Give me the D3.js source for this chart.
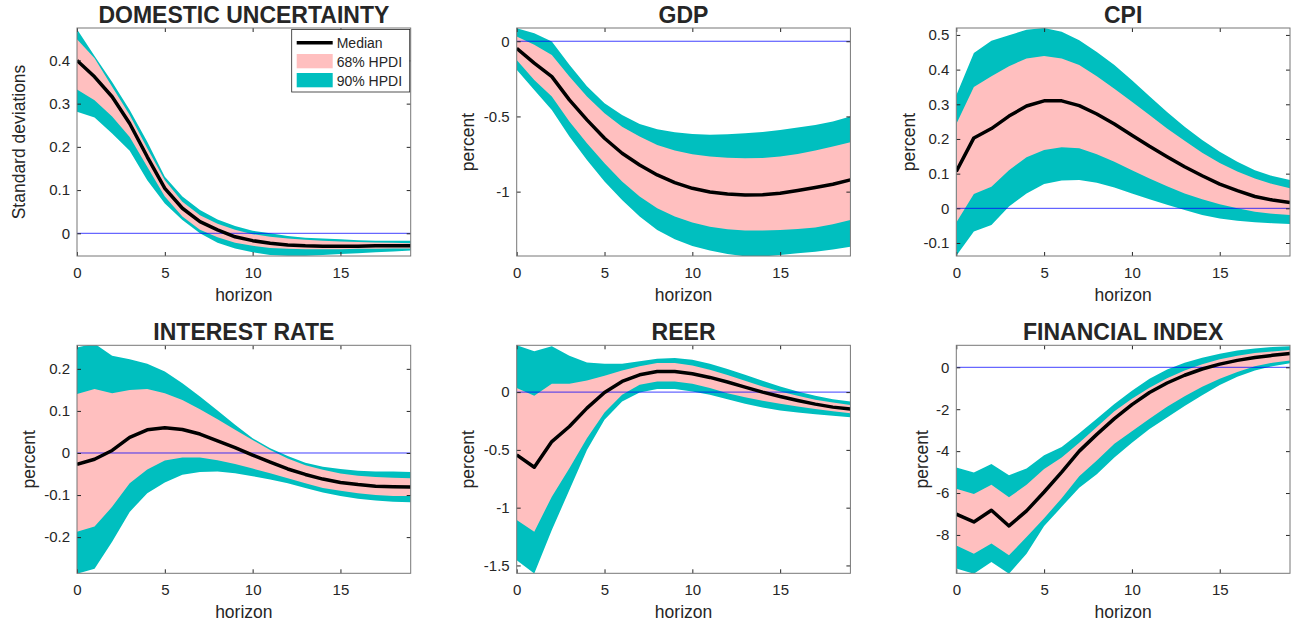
<!DOCTYPE html>
<html>
<head>
<meta charset="utf-8">
<script src="https://cdn.jsdelivr.net/npm/d3@7"></script>
<style>
  body { margin: 0; background: #fff; }
  svg text { font-family: "Liberation Sans", Arial, sans-serif; fill: #262626; }
</style>
</head>
<body>
<svg id="chart" width="1293" height="626"></svg>
<script>
// horizon (x axis)
var horizon = [0,1,2,3,4,5,6,7,8,9,10,11,12,13,14,15,16,17,18,19];

// DOMESTIC UNCERTAINTY
var duMedian = [0.400,0.362,0.316,0.254,0.177,0.104,0.058,0.027,0.008,-0.008,-0.017,-0.023,-0.027,-0.029,-0.030,-0.030,-0.030,-0.029,-0.029,-0.029];
var duLo68 = [0.333,0.308,0.270,0.223,0.154,0.085,0.039,0.008,-0.009,-0.022,-0.029,-0.034,-0.036,-0.037,-0.037,-0.037,-0.036,-0.036,-0.035,-0.035];
var duHi68 = [0.449,0.405,0.339,0.274,0.197,0.123,0.073,0.042,0.022,0.008,-0.002,-0.008,-0.012,-0.015,-0.017,-0.019,-0.020,-0.021,-0.022,-0.023];
var duLo90 = [0.281,0.268,0.231,0.191,0.123,0.069,0.031,0.000,-0.022,-0.035,-0.044,-0.050,-0.052,-0.052,-0.050,-0.048,-0.046,-0.044,-0.042,-0.040];
var duHi90 = [0.472,0.410,0.350,0.285,0.212,0.131,0.085,0.054,0.032,0.017,0.006,0.000,-0.006,-0.010,-0.012,-0.014,-0.016,-0.017,-0.017,-0.017];

// GDP
var gdpMedian = [-0.047,-0.146,-0.235,-0.390,-0.523,-0.645,-0.745,-0.823,-0.889,-0.940,-0.978,-1.002,-1.016,-1.022,-1.020,-1.011,-0.993,-0.973,-0.951,-0.922];
var gdpLo68 = [-0.124,-0.257,-0.368,-0.534,-0.678,-0.811,-0.933,-1.033,-1.111,-1.166,-1.206,-1.233,-1.250,-1.259,-1.259,-1.255,-1.248,-1.239,-1.217,-1.188];
var gdpHi68 = [0.031,-0.024,-0.091,-0.235,-0.368,-0.479,-0.568,-0.634,-0.690,-0.727,-0.752,-0.767,-0.774,-0.778,-0.776,-0.767,-0.749,-0.727,-0.700,-0.672];
var gdpLo90 = [-0.190,-0.324,-0.457,-0.634,-0.789,-0.933,-1.055,-1.166,-1.255,-1.317,-1.361,-1.392,-1.415,-1.430,-1.432,-1.421,-1.410,-1.399,-1.384,-1.366];
var gdpHi90 = [0.086,0.053,-0.002,-0.157,-0.300,-0.412,-0.490,-0.550,-0.585,-0.605,-0.616,-0.621,-0.619,-0.612,-0.603,-0.590,-0.574,-0.557,-0.534,-0.501];

// CPI
var cpiMedian = [0.106,0.203,0.230,0.266,0.295,0.310,0.310,0.296,0.272,0.243,0.211,0.179,0.149,0.120,0.094,0.070,0.051,0.034,0.024,0.017];
var cpiLo68 = [-0.041,0.041,0.062,0.110,0.147,0.168,0.176,0.173,0.156,0.134,0.110,0.086,0.064,0.043,0.026,0.012,0.000,-0.010,-0.016,-0.019];
var cpiHi68 = [0.243,0.350,0.381,0.410,0.432,0.439,0.432,0.413,0.381,0.345,0.307,0.269,0.230,0.195,0.160,0.131,0.106,0.086,0.070,0.058];
var cpiLo90 = [-0.137,-0.067,-0.048,0.005,0.043,0.070,0.080,0.082,0.074,0.060,0.043,0.026,0.010,-0.005,-0.019,-0.029,-0.036,-0.040,-0.043,-0.045];
var cpiHi90 = [0.326,0.448,0.483,0.499,0.515,0.520,0.509,0.485,0.451,0.413,0.369,0.323,0.278,0.235,0.197,0.163,0.134,0.110,0.093,0.082];

// INTEREST RATE
var irMedian = [-0.027,-0.015,0.006,0.037,0.055,0.060,0.056,0.045,0.029,0.013,-0.005,-0.022,-0.038,-0.051,-0.062,-0.070,-0.075,-0.079,-0.080,-0.081];
var irLo68 = [-0.187,-0.175,-0.128,-0.072,-0.039,-0.018,-0.011,-0.011,-0.017,-0.026,-0.037,-0.048,-0.060,-0.072,-0.083,-0.090,-0.096,-0.100,-0.102,-0.102];
var irHi68 = [0.140,0.152,0.142,0.150,0.152,0.142,0.126,0.104,0.080,0.055,0.031,0.007,-0.013,-0.029,-0.040,-0.049,-0.054,-0.057,-0.059,-0.060];
var irLo90 = [-0.287,-0.275,-0.211,-0.140,-0.096,-0.070,-0.052,-0.045,-0.044,-0.048,-0.055,-0.063,-0.072,-0.083,-0.094,-0.102,-0.109,-0.113,-0.116,-0.117];
var irHi90 = [0.251,0.260,0.231,0.223,0.212,0.194,0.166,0.134,0.101,0.067,0.035,0.011,-0.007,-0.023,-0.033,-0.038,-0.042,-0.044,-0.044,-0.045];

// REER
var reerMedian = [-0.543,-0.650,-0.428,-0.298,-0.139,-0.003,0.092,0.150,0.179,0.179,0.159,0.127,0.087,0.043,0.000,-0.038,-0.072,-0.104,-0.130,-0.147];
var reerLo68 = [-1.107,-1.208,-0.905,-0.659,-0.399,-0.176,-0.023,0.064,0.092,0.092,0.072,0.035,-0.009,-0.045,-0.075,-0.100,-0.125,-0.147,-0.165,-0.182];
var reerHi68 = [0.035,-0.032,0.072,0.072,0.101,0.142,0.188,0.223,0.251,0.251,0.231,0.194,0.147,0.098,0.049,0.006,-0.032,-0.066,-0.090,-0.112];
var reerLo90 = [-1.454,-1.570,-1.194,-0.847,-0.500,-0.240,-0.081,-0.003,0.026,0.026,0.006,-0.023,-0.061,-0.101,-0.133,-0.159,-0.176,-0.191,-0.205,-0.217];
var reerHi90 = [0.405,0.353,0.396,0.315,0.257,0.246,0.246,0.266,0.289,0.295,0.280,0.246,0.199,0.150,0.098,0.049,0.006,-0.032,-0.061,-0.081];

// FINANCIAL INDEX
var fiMedian = [-7.01,-7.38,-6.82,-7.57,-6.85,-5.95,-5.00,-4.00,-3.20,-2.45,-1.78,-1.20,-0.75,-0.38,-0.08,0.15,0.33,0.47,0.57,0.66];
var fiLo68 = [-8.50,-8.90,-8.41,-8.97,-8.10,-7.20,-6.25,-5.20,-4.45,-3.65,-3.05,-2.45,-1.88,-1.38,-0.93,-0.55,-0.22,0.05,0.22,0.33];
var fiHi68 = [-5.80,-6.05,-5.60,-6.20,-5.61,-4.85,-4.30,-3.60,-2.85,-2.10,-1.50,-0.98,-0.52,-0.15,0.15,0.38,0.55,0.68,0.76,0.82];
var fiLo90 = [-9.60,-9.85,-9.29,-9.85,-8.90,-7.57,-6.66,-5.75,-5.10,-4.30,-3.60,-2.95,-2.40,-1.85,-1.33,-0.85,-0.45,-0.15,0.05,0.19];
var fiHi90 = [-4.78,-5.02,-4.62,-5.15,-4.83,-4.20,-3.80,-3.15,-2.45,-1.75,-1.12,-0.55,-0.10,0.22,0.45,0.65,0.80,0.90,0.97,1.00];

// titles, axis labels, ticks
var titles = ["DOMESTIC UNCERTAINTY", "GDP", "CPI", "INTEREST RATE", "REER", "FINANCIAL INDEX"];
var yLabels = ["Standard deviations", "percent", "percent", "percent", "percent", "percent"];
var xTicks = [0, 5, 10, 15];
var yTicks = [
  [0, 0.1, 0.2, 0.3, 0.4],
  [-1, -0.5, 0],
  [-0.1, 0, 0.1, 0.2, 0.3, 0.4, 0.5],
  [-0.2, -0.1, 0, 0.1, 0.2],
  [-1.5, -1, -0.5, 0],
  [-8, -6, -4, -2, 0]
];
var yDomains = [
  [-0.0525, 0.475],
  [-1.428, 0.088],
  [-0.1375, 0.52],
  [-0.286, 0.256],
  [-1.568, 0.405],
  [-9.83, 1.05]
];
var legendLabels = ["Median", "68% HPDI", "90% HPDI"];

var panels = [
  {median: duMedian, lo68: duLo68, hi68: duHi68, lo90: duLo90, hi90: duHi90},
  {median: gdpMedian, lo68: gdpLo68, hi68: gdpHi68, lo90: gdpLo90, hi90: gdpHi90},
  {median: cpiMedian, lo68: cpiLo68, hi68: cpiHi68, lo90: cpiLo90, hi90: cpiHi90},
  {median: irMedian, lo68: irLo68, hi68: irHi68, lo90: irLo90, hi90: irHi90},
  {median: reerMedian, lo68: reerLo68, hi68: reerHi68, lo90: reerLo90, hi90: reerHi90},
  {median: fiMedian, lo68: fiLo68, hi68: fiHi68, lo90: fiLo90, hi90: fiHi90}
];

// layout
var colLeft = [77, 516.7, 956.3];
var rowTop = [28, 345.3];
var plotW = 333.7, plotH = 228;
var yLabelX = [-52, -42.4, -41.6, -42, -42.4, -28.6];

var pink = "#ffbfbf", cyan = "#00bfbf";

var svg = d3.select("#chart");

panels.forEach(function(p, i) {
  var left = colLeft[i % 3], top = rowTop[Math.floor(i / 3)];
  var g = svg.append("g").attr("transform", "translate(" + left + "," + top + ")");

  var x = d3.scaleLinear().domain([0, 19]).range([0, plotW]);
  var y = d3.scaleLinear().domain(yDomains[i]).range([plotH, 0]);

  g.append("clipPath").attr("id", "clip" + i)
    .append("rect").attr("width", plotW).attr("height", plotH);

  var plot = g.append("g").attr("clip-path", "url(#clip" + i + ")");

  var rows = horizon.map(function(h, k) {
    return {h: h, m: p.median[k], lo68: p.lo68[k], hi68: p.hi68[k], lo90: p.lo90[k], hi90: p.hi90[k]};
  });

  var band = function(loKey, hiKey) {
    return d3.area()
      .x(function(d) { return x(d.h); })
      .y0(function(d) { return y(d[loKey]); })
      .y1(function(d) { return y(d[hiKey]); });
  };

  plot.append("path").datum(rows).attr("d", band("lo90", "hi90")).attr("fill", cyan);
  plot.append("path").datum(rows).attr("d", band("lo68", "hi68")).attr("fill", pink);

  plot.append("line")
    .attr("x1", 0).attr("x2", plotW)
    .attr("y1", y(0)).attr("y2", y(0))
    .attr("stroke", "#0000ff").attr("stroke-opacity", 0.75).attr("stroke-width", 1);

  plot.append("path").datum(rows)
    .attr("d", d3.line().x(function(d) { return x(d.h); }).y(function(d) { return y(d.m); }))
    .attr("fill", "none").attr("stroke", "#000").attr("stroke-width", 3.5)
    .attr("stroke-linejoin", "round");

  // axes (ticks inward, box on)
  var fmt = function(d) { return String(d); };
  g.append("g").attr("transform", "translate(0," + plotH + ")")
    .call(d3.axisBottom(x).tickValues(xTicks).tickFormat(fmt).tickSizeInner(-4).tickSizeOuter(0).tickPadding(11));
  g.append("g")
    .call(d3.axisLeft(y).tickValues(yTicks[i]).tickFormat(fmt).tickSizeInner(-4).tickSizeOuter(0).tickPadding(7));
  g.append("g").call(d3.axisTop(x).tickValues(xTicks).tickFormat("").tickSizeInner(-4).tickSizeOuter(0));
  g.append("g").attr("transform", "translate(" + plotW + ",0)")
    .call(d3.axisRight(y).tickValues(yTicks[i]).tickFormat("").tickSizeInner(-4).tickSizeOuter(0));

  g.selectAll(".domain").remove();
  g.selectAll(".tick line").attr("stroke", "#262626");
  g.selectAll(".tick text").attr("font-size", 15).attr("fill", "#262626")
    .style("font-family", "'Liberation Sans', Arial, sans-serif");

  g.append("rect").attr("width", plotW).attr("height", plotH)
    .attr("fill", "none").attr("stroke", "#777").attr("stroke-width", 1);

  g.append("text")
    .attr("x", plotW / 2).attr("y", -5)
    .attr("text-anchor", "middle")
    .attr("font-size", 23).attr("font-weight", "bold").attr("fill", "#000")
    .text(titles[i]);

  g.append("text")
    .attr("x", plotW / 2).attr("y", plotH + 45)
    .attr("text-anchor", "middle")
    .attr("font-size", 17.5)
    .text("horizon");

  g.append("text")
    .attr("transform", "translate(" + yLabelX[i] + "," + (plotH / 2) + ") rotate(-90)")
    .attr("text-anchor", "middle")
    .attr("font-size", 17.5)
    .text(yLabels[i]);

  if (i === 0) {
    var lg = g.append("g").attr("transform", "translate(" + (plotW - 119) + ",1.5)");
    lg.append("rect").attr("width", 118).attr("height", 62.5)
      .attr("fill", "#fff").attr("stroke", "#262626").attr("stroke-width", 0.8);
    lg.append("line").attr("x1", 5).attr("x2", 41).attr("y1", 13.2).attr("y2", 13.2)
      .attr("stroke", "#000").attr("stroke-width", 3.5);
    lg.append("rect").attr("x", 5).attr("y", 24.5).attr("width", 36).attr("height", 14.3).attr("fill", pink);
    lg.append("rect").attr("x", 5).attr("y", 43.5).attr("width", 36).attr("height", 14.3).attr("fill", cyan);
    lg.selectAll("text.lab").data(legendLabels).enter().append("text")
      .attr("class", "lab")
      .attr("x", 45).attr("y", function(d, k) { return 18.5 + k * 19; })
      .attr("font-size", 14).attr("fill", "#000")
      .text(function(d) { return d; });
  }
});
</script>
</body>
</html>
